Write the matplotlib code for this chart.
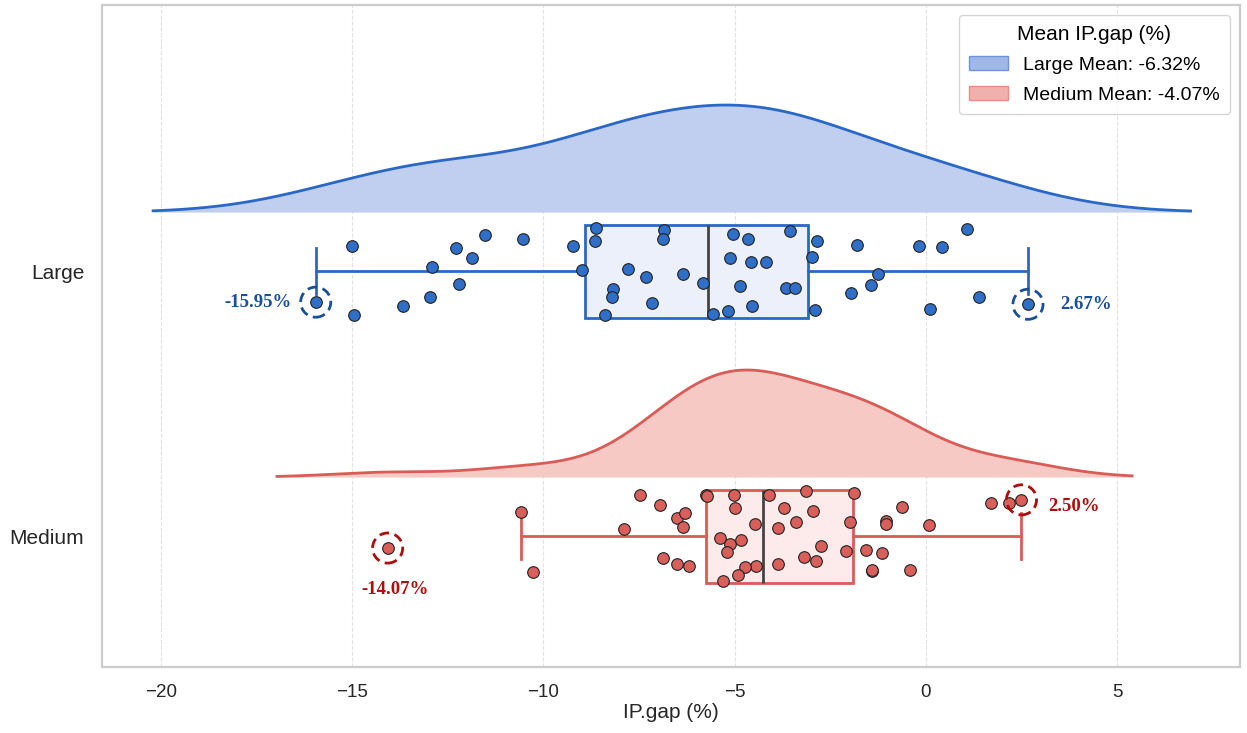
import numpy as np
import matplotlib.pyplot as plt
from matplotlib.patches import Patch

# Datos
categories = ['Large', 'Medium']
large_vals = [-15.0, -14.95, -15.95, -13.67, -12.96, -12.91, -12.2, -12.28, -11.86, -11.52,
              -10.53, -9.22, -8.99, -8.62, -8.65, -8.18, -8.2, -8.38,
              -6.85, -6.87, -7.79, -7.32, -6.35, -5.82, -7.16, -5.56, -5.04, -4.65,
              -3.55, -5.12, -4.58, -4.18, -4.86, -3.66, -3.42, -5.17, -4.55, -2.85,
              -2.98, -2.9, -1.8, -1.25, -1.44, -1.96, -0.18, 0.42, 1.07, 0.1, 1.38, 2.67]
large_jit = [0.095, -0.166, -0.117, -0.132, -0.098, 0.015, -0.049, 0.087, 0.049, 0.136,
             0.121, 0.094, 0.004, 0.162, 0.113, -0.068, -0.098, -0.166,
             0.155, 0.121, 0.008, -0.023, -0.011, -0.045, -0.121, -0.162, 0.140, 0.121,
             0.151, 0.049, 0.034, 0.034, -0.057, -0.064, -0.064, -0.151, -0.132, 0.113,
             0.053, -0.147, 0.098, -0.011, -0.053, -0.083, 0.094, 0.091, 0.158, -0.143, -0.098, -0.125]
medium_vals = [-14.07, -10.58, -10.28, -7.48, -6.94, -6.51, -6.30, -6.36, -7.89, -6.87,
               -6.50, -6.19, -5.75, -5.72, -5.01, -4.99, -4.46, -5.37, -5.12, -4.83,
               -5.21, -4.44, -4.72, -4.92, -5.30, -4.09, -3.70, -3.13, -2.94, -3.40,
               -3.87, -2.74, -3.19, -2.88, -3.87, -1.87, -1.97, -2.08, -1.56, -1.14,
               -1.40, -1.40, -1.04, -1.04, -0.63, -0.42, 0.09, 1.71, 2.17, 2.50]
medium_jit = [-0.045, 0.091, -0.135, 0.156, 0.117, 0.068, 0.086, 0.035, 0.026, -0.082,
              -0.105, -0.111, 0.155, 0.150, 0.155, 0.106, 0.046, -0.008, -0.029, -0.015,
              -0.058, -0.113, -0.118, -0.145, -0.171, 0.154, 0.106, 0.169, 0.094, 0.054,
              0.031, -0.039, -0.077, -0.093, -0.105, 0.163, 0.052, -0.057, -0.052, -0.063,
              -0.130, -0.126, 0.058, 0.044, 0.109, -0.126, 0.043, 0.125, 0.125, 0.137]
legend_means = [-6.32, -4.07]

# Estilos
line_colors = ['#2a68c8', '#d95c57']
fill_colors = ['#c0cff0', '#f6c9c5']
box_faces = ['#ebf0fb', '#fdeaea']
point_colors = ['#2f6fc8', '#d9605a']
ann_colors = ['#1a4f9c', '#b00c0c']
legend_faces = ['#a0b8e8', '#f0b0ab']
legend_edges = ['#6f93dc', '#e68f88']
positions = [1.0, 0.0]

plt.rcParams['font.family'] = ['Liberation Sans', 'DejaVu Sans']

fig = plt.figure(figsize=(12.47, 7.33), dpi=100)
ax = fig.add_axes([0.082, 0.09, 0.912, 0.903])


def kde_curve(vals):
    v = np.asarray(vals)
    bw = v.std(ddof=1) * len(v) ** (-1 / 5)
    grid = np.linspace(v.min() - 2 * bw, v.max() + 2 * bw, 400)
    dens = np.exp(-0.5 * ((grid[:, None] - v[None, :]) / bw) ** 2).sum(axis=1)
    return grid, dens / dens.max()


datasets = [large_vals, medium_vals]
jitters = [large_jit, medium_jit]

for i, (vals, jit, pos) in enumerate(zip(datasets, jitters, positions)):
    vals = np.asarray(vals)
    # nube (media densidad)
    grid, dens = kde_curve(vals)
    base = pos + 0.223
    ax.fill_between(grid, base, base + dens * 0.404, color=fill_colors[i], zorder=1, lw=0)
    ax.plot(grid, base + dens * 0.404, color=line_colors[i], lw=2, zorder=2)

    # caja
    ax.boxplot(vals, positions=[pos], vert=False, widths=0.35, patch_artist=True,
               showfliers=False, zorder=3,
               boxprops=dict(facecolor=box_faces[i], edgecolor=line_colors[i], lw=2),
               whiskerprops=dict(color=line_colors[i], lw=2),
               capprops=dict(color=line_colors[i], lw=2),
               medianprops=dict(color='#444444', lw=2))

    # puntos
    ax.scatter(vals, pos + np.asarray(jit), s=70, color=point_colors[i],
               edgecolor='#222222', linewidths=0.8, zorder=5)

    # extremos
    kmin, kmax = np.argmin(vals), np.argmax(vals)
    for k in (kmin, kmax):
        ax.scatter(vals[k], pos + jit[k], s=470, facecolor='none', edgecolor=ann_colors[i],
                   linewidths=2, linestyle=(0, (3.5, 2)), zorder=6)

    txt = dict(color=ann_colors[i], fontsize=13.5, fontweight='bold', family='Liberation Serif')
    if i == 0:
        ax.annotate(f'{vals[kmin]:.2f}%', (vals[kmin], pos + jit[kmin]), xytext=(-17, 0),
                    textcoords='offset points', ha='right', va='center', **txt)
        ax.annotate(f'{vals[kmax]:.2f}%', (vals[kmax], pos + jit[kmax]), xytext=(23, 0),
                    textcoords='offset points', ha='left', va='center', **txt)
    else:
        ax.annotate(f'{vals[kmin]:.2f}%', (vals[kmin], pos + jit[kmin]), xytext=(5, -30),
                    textcoords='offset points', ha='center', va='center', **txt)
        ax.annotate(f'{vals[kmax]:.2f}%', (vals[kmax], pos + jit[kmax]), xytext=(19, -5),
                    textcoords='offset points', ha='left', va='center', **txt)

ax.set_xlim(-21.53, 8.2)
ax.set_ylim(-0.494, 2.004)
ax.set_xticks([-20, -15, -10, -5, 0, 5])
ax.set_yticks(positions)
ax.set_yticklabels(categories, fontsize=15, color='#262626')
ax.tick_params(axis='x', labelsize=13.5, colors='#262626', length=0, pad=12)
ax.tick_params(axis='y', length=0, pad=13)
ax.set_xlabel('IP.gap (%)', fontsize=15, color='#262626', labelpad=2)
ax.grid(axis='x', linestyle='--', color='#e2e2e2', lw=0.8, zorder=0)
ax.set_axisbelow(True)
for sp in ax.spines.values():
    sp.set_color('#cccccc')
    sp.set_linewidth(1.6)

handles = [Patch(facecolor=legend_faces[i], edgecolor=legend_edges[i],
                 label=f'{categories[i]} Mean: {legend_means[i]:.2f}%') for i in range(2)]
leg = ax.legend(handles=handles, title='Mean IP.gap (%)', loc='upper right', fontsize=14,
                title_fontsize=15, frameon=True, borderpad=0.5, borderaxespad=0.5,
                labelspacing=0.65)
leg.get_frame().set_edgecolor('#cccccc')

fig.savefig('out.png', dpi=100)
